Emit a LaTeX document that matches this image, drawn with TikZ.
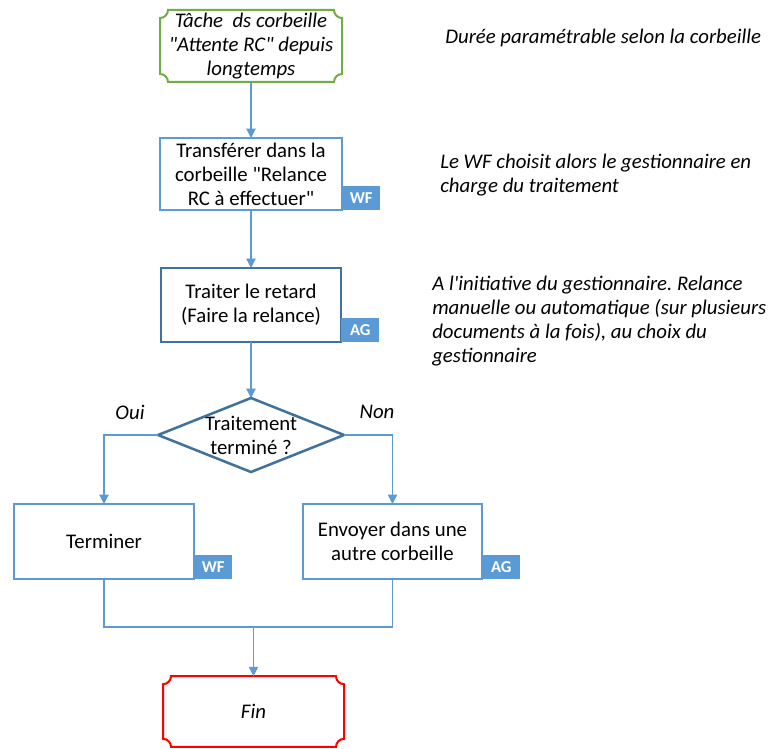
\documentclass[tikz,border=0pt]{standalone}
\usepackage{fontspec}
\setmainfont{Carlito}
\usetikzlibrary{arrows.meta,calc}
\frenchspacing

\definecolor{flowblue}{HTML}{5B9BD5}
\definecolor{darkblue}{HTML}{41719C}
\definecolor{startgreen}{HTML}{70AD47}
\definecolor{endred}{HTML}{FF0000}

\newcommand\dq{\textquotedbl}
\newcommand\sq{\textquotesingle}

% Rectangle with concave (notched) corners, drawn around a named node
\newcommand\notchedframe[2]{%
  \draw[#2]
    ($(#1.north west)+(6pt,0)$) -- ($(#1.north east)+(-6pt,0)$)
    arc[start angle=180,end angle=270,radius=6pt]
    -- ($(#1.south east)+(0,6pt)$)
    arc[start angle=90,end angle=180,radius=6pt]
    -- ($(#1.south west)+(6pt,0)$)
    arc[start angle=0,end angle=90,radius=6pt]
    -- ($(#1.north west)+(0,-6pt)$)
    arc[start angle=270,end angle=360,radius=6pt]
    -- cycle;}

\tikzset{
  txt/.style={font=\fontsize{15.6}{18}\selectfont, align=center, inner sep=0pt, outer sep=0pt},
  itxt/.style={txt, font=\fontsize{15.6}{18}\selectfont\itshape},
  note/.style={font=\fontsize{15.6}{18}\selectfont\itshape, align=left, inner sep=0pt, anchor=north west},
  lightbox/.style={txt, draw=flowblue, line width=1.5pt},
  darkbox/.style={txt, draw=darkblue, line width=1.9pt},
  tag/.style={fill=flowblue, text=white, font=\fontsize{12.5}{13}\selectfont\bfseries,
              minimum width=28.5pt, minimum height=17.5pt, inner sep=0pt, anchor=south west},
  link/.style={draw=flowblue, line width=0.9pt},
  arrow/.style={link, -{Triangle[width=7pt,length=7pt]}},
}

\begin{document}
\begin{tikzpicture}[x=0.75pt,y=-0.75pt]
  \useasboundingbox (0,0) rectangle (772,749);

  % start and end terminals
  \node[itxt, minimum width=136.5pt, minimum height=54pt]
    (start) at (251,46) {Tâche\ \ ds corbeille\\\dq Attente RC\dq{} depuis\\longtemps};
  \notchedframe{start}{startgreen, line width=1.5pt}

  % process steps
  \node[lightbox, minimum width=136.5pt, minimum height=54pt]
    (transfer) at (251,174) {Transférer dans la\\corbeille \dq Relance\\RC à effectuer\dq};
  \node[tag] (transfertag) at (transfer.south east) {WF};

  \node[darkbox, minimum width=135pt, minimum height=55.5pt]
    (treat) at (251,305) {Traiter le retard\\(Faire la relance)};
  \node[tag] (treattag) at (treat.south east) {AG};

  % decision
  \node[txt, minimum width=139.5pt, minimum height=55.5pt]
    (decide) at (251,435) {Traitement\\terminé ?};
  \draw[draw=darkblue, line width=1.9pt, line join=miter]
    (decide.north) -- (decide.east) -- (decide.south) -- (decide.west) -- cycle;

  \node[lightbox, minimum width=135pt, minimum height=56.25pt]
    (finish) at (104,541.5) {Terminer};
  \node[tag] (finishtag) at (finish.south east) {WF};

  \node[lightbox, minimum width=134.25pt, minimum height=56.25pt]
    (send) at (392.5,541.5) {Envoyer dans une\\autre corbeille};
  \node[tag] (sendtag) at (send.south east) {AG};

  \node[itxt, minimum width=135.75pt, minimum height=53pt]
    (fin) at (253.5,711.5) {Fin};
  \notchedframe{fin}{endred, line width=1.5pt}

  % connectors
  \draw[arrow] (start.south) -- (transfer.north);
  \draw[arrow] (transfer.south) -- (treat.north);
  \draw[arrow] (treat.south) -- (decide.north);
  \draw[arrow] (decide.west) -| (finish.north);
  \draw[arrow] (decide.east) -| (send.north);
  \coordinate (merge) at (253.5,627);
  \draw[link] (finish.south) |- (merge) -| (send.south);
  \draw[arrow] (merge) -- (fin.north);

  % branch labels
  \node[itxt] (yes) at (130,412) {Oui};
  \node[itxt] (no) at (377,412) {Non};

  % side notes
  \node[note] (note1) at (445,29) {Durée paramétrable selon la corbeille};
  \node[note] (note2) at (440,154) {Le WF choisit alors le gestionnaire en\\charge du traitement};
  \node[note] (note3) at (432,276) {A l\sq initiative du gestionnaire. Relance\\manuelle ou automatique (sur plusieurs\\documents à la fois), au choix du\\gestionnaire};
\end{tikzpicture}
\end{document}
